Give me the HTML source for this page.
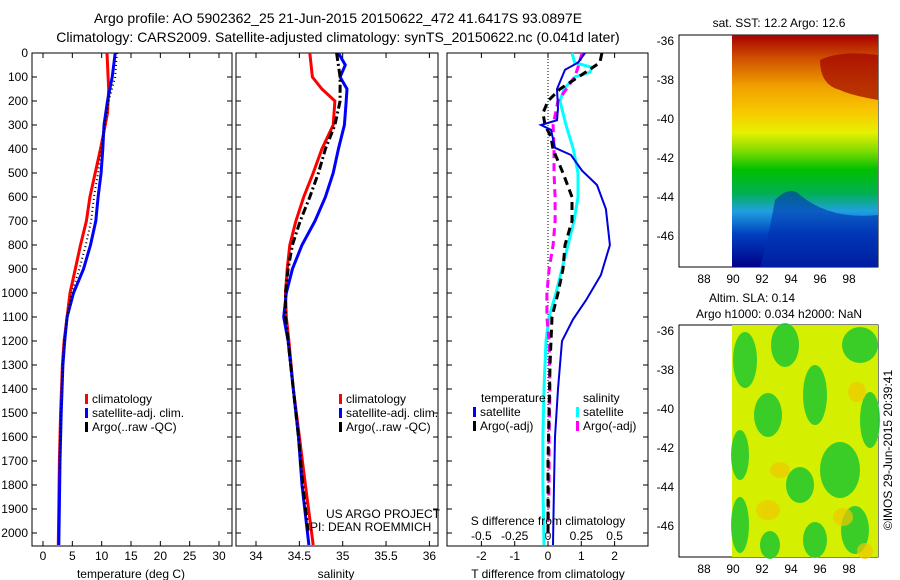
<!DOCTYPE html>
<html><head><meta charset="utf-8"><style>
body{margin:0;background:#fff;}
svg{display:block;font-family:"Liberation Sans",sans-serif;}
</style></head><body>
<svg id="fig" width="900" height="580" viewBox="0 0 900 580">
<defs>
<linearGradient id="sstg" x1="0" y1="0" x2="0" y2="1">
<stop offset="0" stop-color="#a80000"/><stop offset="0.1" stop-color="#d05000"/><stop offset="0.22" stop-color="#f0a000"/><stop offset="0.33" stop-color="#f8c800"/><stop offset="0.42" stop-color="#e8f000"/><stop offset="0.5" stop-color="#80dc00"/><stop offset="0.58" stop-color="#00c000"/><stop offset="0.68" stop-color="#00b050"/><stop offset="0.76" stop-color="#20a0e0"/><stop offset="0.86" stop-color="#0040c0"/><stop offset="1" stop-color="#000088"/>
</linearGradient>
</defs>
<g id="titles">
<text x="338" y="23" font-size="14" text-anchor="middle">Argo profile: AO 5902362_25 21-Jun-2015 20150622_472 41.6417S 93.0897E</text>
<text x="338" y="42" font-size="14" text-anchor="middle">Climatology: CARS2009. Satellite-adjusted climatology: synTS_20150622.nc (0.041d later)</text>
</g>
<g id="panels"></g>
<g id="maps">
<rect x="679" y="35" width="199" height="232" fill="#fff" stroke="#000"/>
<rect x="732" y="35" width="146" height="232" fill="url(#sstg)"/>
<path d="M820 60 Q840 50 878 55 L878 100 Q850 95 840 90 Q820 85 820 60Z" fill="#a00000" opacity="0.7"/>
<path d="M775 200 Q790 185 800 195 Q830 220 878 215 L878 267 L760 267 Q770 230 775 200Z" fill="#0030b0" opacity="0.6"/>
<rect x="679" y="325" width="199" height="232" fill="#fff" stroke="#000"/>
<rect x="732" y="325" width="146" height="232" fill="#d4f000"/>
<g fill="#20c830" opacity="0.85">
<ellipse cx="745" cy="360" rx="12" ry="28"/><ellipse cx="785" cy="345" rx="14" ry="22"/><ellipse cx="860" cy="345" rx="18" ry="18"/>
<ellipse cx="768" cy="415" rx="14" ry="22"/><ellipse cx="815" cy="395" rx="12" ry="30"/><ellipse cx="870" cy="420" rx="10" ry="28"/>
<ellipse cx="740" cy="455" rx="9" ry="25"/><ellipse cx="840" cy="470" rx="20" ry="28"/><ellipse cx="800" cy="485" rx="14" ry="18"/>
<ellipse cx="740" cy="525" rx="9" ry="28"/><ellipse cx="815" cy="540" rx="12" ry="18"/><ellipse cx="855" cy="530" rx="14" ry="24"/><ellipse cx="770" cy="545" rx="10" ry="14"/>
</g>
<g fill="#f0c800" opacity="0.7"><ellipse cx="780" cy="470" rx="10" ry="8"/><ellipse cx="768" cy="510" rx="12" ry="10"/><ellipse cx="843" cy="517" rx="10" ry="9"/><ellipse cx="865" cy="551" rx="8" ry="8"/><ellipse cx="857" cy="392" rx="9" ry="10"/></g>
<text x="779" y="27" font-size="12" text-anchor="middle">sat. SST: 12.2 Argo: 12.6</text>
<text x="752" y="302" font-size="12" text-anchor="middle">Altim. SLA: 0.14</text>
<text x="779" y="318" font-size="12" text-anchor="middle">Argo h1000: 0.034 h2000: NaN</text>
<text transform="translate(892,450) rotate(-90)" font-size="12" text-anchor="middle">©IMOS 29-Jun-2015 20:39:41</text>
<text x="326" y="518" font-size="12">US ARGO PROJECT</text>
<text x="310" y="531" font-size="12">PI: DEAN ROEMMICH</text>
</g>
</svg>
<script>
const depthTicks=[0,100,200,300,400,500,600,700,800,900,1000,1100,1200,1300,1400,1500,1600,1700,1800,1900,2000];
const tTicks=[0,5,10,15,20,25,30];
const sTicks=[34,34.5,35,35.5,36];
const dTTicks=[-2,-1,0,1,2];
const dSTicks=[-0.5,-0.25,0,0.25,0.5];
const dSTickLabels=["-0.5","-0.25","0","0.25","0.5"];
const latTicks=[-36,-38,-40,-42,-44,-46];
const lonTicks=[88,90,92,94,96,98];

const tClimDepth=[0,100,150,250,300,400,500,600,700,800,900,1000,1100,1200,1300,1500,1700,2050];
const tClim=[10.9,11.1,11.2,11.0,10.6,9.8,8.9,8.0,7.4,6.4,5.5,4.6,4.1,3.6,3.3,3.0,2.8,2.6];
const tSatDepth=[0,100,200,300,400,500,600,700,800,900,1000,1100,1200,1300,1500,1700,2050];
const tSat=[12.3,11.8,11.0,10.4,10.2,9.9,9.4,9.0,8.1,6.9,5.2,4.1,3.7,3.4,3.1,2.9,2.7];
const tArgoDepth=[0,100,200,300,400,500,600,700,800,900,1000,1100,1200,1400,1600,1740];
const tArgo=[12.6,12.3,11.2,10.5,9.9,9.4,8.7,8.2,7.3,6.2,4.9,4.1,3.6,3.2,3.0,2.9];

const sClimDepth=[0,100,150,200,300,400,500,600,700,800,900,1000,1100,1200,1400,1600,1800,2050];
const sClim=[34.62,34.65,34.76,34.91,34.89,34.76,34.66,34.55,34.46,34.39,34.36,34.34,34.35,34.38,34.43,34.5,34.57,34.66];
const sSatDepth=[0,50,100,150,200,300,400,500,600,700,800,900,1000,1100,1200,1400,1600,1800,2050];
const sSat=[34.95,35.03,34.97,35.05,35.04,35.02,34.95,34.89,34.8,34.68,34.53,34.42,34.35,34.32,34.37,34.43,34.49,34.53,34.61];
const sArgoDepth=[0,100,200,300,400,500,600,700,800,900,1000,1100,1200,1400,1600,1800,1990];
const sArgo=[34.93,34.97,34.97,34.91,34.8,34.72,34.62,34.51,34.42,34.37,34.34,34.34,34.37,34.43,34.49,34.54,34.6];

const dTSatDepth=[0,40,70,150,230,280,300,320,395,425,490,550,650,800,925,1030,1110,1200,1400,1600,1800,2050];
const dTSat=[1.11,0.9,0.51,0.27,0.3,0.27,-0.21,0.09,0.21,0.69,1.02,1.47,1.74,1.86,1.59,1.14,0.75,0.42,0.3,0.21,0.18,0.15];
const dTArgoDepth=[0,40,90,150,200,250,300,350,400,500,600,700,800,900,1000,1100,1300,1500,1700,1900,2000];
const dTArgo=[1.62,1.56,1.02,0.36,0,-0.15,-0.09,0.09,0.15,0.45,0.72,0.72,0.51,0.45,0.3,0.12,0.06,0.03,0,0,0];
const dSSatDepth=[0,40,60,80,100,150,200,300,400,500,600,700,800,900,1000,1100,1200,1400,1600,1800,2050];
const dSSat=[0.18,0.2,0.33,0.315,0.2,0.12,0.09,0.135,0.19,0.225,0.225,0.195,0.15,0.105,0.06,0.008,-0.015,-0.03,-0.038,-0.038,-0.03];
const dSArgoDepth=[0,60,100,200,300,400,500,600,700,800,900,1000,1100,1200,1400,1600,1800,2000];
const dSArgo=[0.255,0.225,0.2,0.075,0.038,0.045,0.045,0.053,0.053,0.038,0.008,-0.008,-0.008,0.008,0.015,0.008,0.008,0];

const NS='http://www.w3.org/2000/svg';
const root=document.getElementById('panels');
function mk(tag,attrs,parent){const e=document.createElementNS(NS,tag);for(const k in attrs)e.setAttribute(k,attrs[k]);(parent||root).appendChild(e);return e;}
const yD=d=>53+d*0.24;
const xT=v=>43+v*5.867;
const xS=v=>256+(v-34)*86.7;
const xDT=v=>548+v*33.3;
const xDS=v=>548+v*133.3;

function frame(x0,x1,name){
  const r=mk('rect',{x:x0,y:53,width:x1-x0,height:493,fill:'none',stroke:'#000'});
  
  
  depthTicks.forEach(d=>{
    mk('line',{x1:x0,x2:x0+5,y1:yD(d),y2:yD(d),stroke:'#000'});
    mk('line',{x1:x1,x2:x1-5,y1:yD(d),y2:yD(d),stroke:'#000'});
  });
}
function xticks(x0,x1,ticks,fx,labels,ly,name){
  ticks.forEach((t,i)=>{
    const x=fx(t);
    mk('line',{x1:x,x2:x,y1:546,y2:541,stroke:'#000'});
    mk('line',{x1:x,x2:x,y1:53,y2:58,stroke:'#000'});
    const tx=mk('text',{x:x,y:ly,'font-size':12,'text-anchor':'middle'});
    tx.textContent=labels?labels[i]:String(t);
    
    
  });
}
function line(ds,vs,fx,color,w,dash,name){
  const p=ds.map((d,i)=>(i?'L':'M')+fx(vs[i]).toFixed(1)+' '+yD(d).toFixed(1)).join(' ');
  const e=mk('path',{d:p,fill:'none',stroke:color,'stroke-width':w});
  if(dash)e.setAttribute('stroke-dasharray',dash);
  
  
}
function label(x,y,txt,name,anchor,size){
  const t=mk('text',{x:x,y:y,'font-size':size||12,'text-anchor':anchor||'start'});
  t.textContent=txt;
  
  
}
function legendEntry(x,y,color,txt){
  mk('rect',{x:x,y:y-9,width:3,height:10,fill:color});
  const t=mk('text',{x:x+7,y:y,'font-size':12});
  t.textContent=txt;
  
  
}

// depth labels
depthTicks.forEach(d=>label(28,yD(d)+4,String(d),'depth-tick-label','end'));

// panel 1
frame(32,232,'temperature-panel');
xticks(32,232,tTicks,xT,null,560,'temperature-tick-label');
line(tClimDepth,tClim,xT,'#ff0000',3,null,'temperature-climatology-line');
line(tSatDepth,tSat,xT,'#0000ff',3,null,'temperature-satellite-line');
line(tArgoDepth,tArgo,xT,'#000',2,'1 3','temperature-argo-line');
label(131,578,'temperature (deg C)','temperature-axis-title','middle');
legendEntry(85,403,'#ff0000','climatology');
legendEntry(85,417,'#0000ff','satellite-adj. clim.');
legendEntry(85,431,'#000','Argo(..raw -QC)');

// panel 2
frame(236,438,'salinity-panel');
xticks(236,438,sTicks,xS,null,560,'salinity-tick-label');
line(sClimDepth,sClim,xS,'#ff0000',3,null,'salinity-climatology-line');
line(sSatDepth,sSat,xS,'#0000ff',3,null,'salinity-satellite-line');
line(sArgoDepth,sArgo,xS,'#000',3,'8 3 2 3','salinity-argo-line');
label(336,578,'salinity','salinity-axis-title','middle');
legendEntry(339,403,'#ff0000','climatology');
legendEntry(339,417,'#0000ff','satellite-adj. clim.');
legendEntry(339,431,'#000','Argo(..raw -QC)');

// panel 3
frame(447,648,'difference-panel');
xticks(447,648,dTTicks,xDT,null,560,'t-difference-tick-label');
dSTicks.forEach((t,i)=>label(xDS(t),540,dSTickLabels[i],'s-difference-tick-label','middle'));
mk('line',{x1:548,x2:548,y1:53,y2:546,stroke:'#000','stroke-dasharray':'1 2'});
line(dSSatDepth,dSSat,xDS,'#00ffff',3,null,'salinity-diff-satellite-line');
line(dSArgoDepth,dSArgo,xDS,'#ff00ff',3,'8 5','salinity-diff-argo-line');
line(dTArgoDepth,dTArgo,xDT,'#000',3,'8 5','temperature-diff-argo-line');
line(dTSatDepth,dTSat,xDT,'#0000dd',2,null,'temperature-diff-satellite-line');
label(548,525,'S difference from climatology','s-difference-axis-title','middle');
label(548,578,'T difference from climatology','t-difference-axis-title','middle');
label(481,402,'temperature','legend-temperature-header');
label(583,402,'salinity','legend-salinity-header');
legendEntry(473,416,'#0000ff','satellite');
legendEntry(473,430,'#000','Argo(-adj)');
legendEntry(576,416,'#00ffff','satellite');
legendEntry(576,430,'#ff00ff','Argo(-adj)');

// map ticks
const yLat0=v=>41+(-36-v)*19.5;
const xLon=v=>704+(v-88)*14.5;
[[35,267,0],[325,557,290]].forEach(([top,bot,off])=>{
  latTicks.forEach(l=>{
    const y=yLat0(l)+off;
    mk('line',{x1:679,x2:683,y1:y,y2:y,stroke:'#000'});
    mk('line',{x1:878,x2:874,y1:y,y2:y,stroke:'#000'});
    label(674,y+4,String(l),'latitude-tick-label','end');
  });
  lonTicks.forEach(l=>{
    const x=xLon(l);
    mk('line',{x1:x,x2:x,y1:bot,y2:bot-4,stroke:'#000'});
    mk('line',{x1:x,x2:x,y1:top,y2:top+4,stroke:'#000'});
    label(x,bot+16,String(l),'longitude-tick-label','middle');
  });
});
</script>
</body></html>
